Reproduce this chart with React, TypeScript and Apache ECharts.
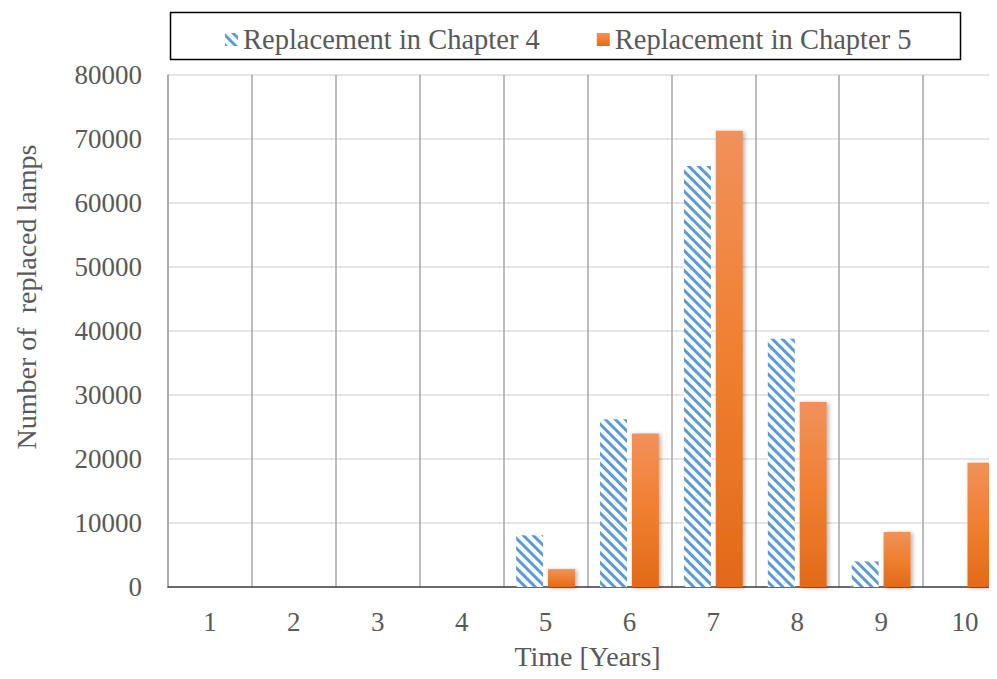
import React, { useEffect, useRef } from "react";
import * as echarts from "echarts";

const years = ["1", "2", "3", "4", "5", "6", "7", "8", "9", "10"];
const chapter4Replacements = [0, 0, 0, 0, 8100, 26200, 65800, 38800, 4000, 0];
const chapter5Replacements = [0, 0, 0, 0, 2800, 24000, 71300, 28900, 8600, 19400];
const yTicks = { min: 0, max: 80000, interval: 10000 };

const FONT = "Liberation Serif";
const TEXT_GRAY = "#595959";

export default function App() {
  const ref = useRef<HTMLDivElement>(null);

  useEffect(() => {
    if (!ref.current) return;
    const chart = echarts.init(ref.current, null, { renderer: "svg" });

    chart.setOption({
      animation: false,
      backgroundColor: "#ffffff",
      textStyle: { fontFamily: FONT },
      // the last category runs slightly past the right edge of the canvas
      grid: {
        left: 168,
        top: 75,
        width: 839,
        height: 512,
        containLabel: false,
        outerBoundsMode: "none",
      },
      legend: {
        left: 220,
        top: 20,
        icon: "rect",
        itemWidth: 13,
        itemHeight: 13,
        itemGap: 57,
        textStyle: { fontFamily: FONT, fontSize: 28.5, color: TEXT_GRAY },
        data: ["Replacement in Chapter 4", "Replacement in Chapter 5"],
      },
      graphic: [
        {
          type: "rect",
          left: 168,
          top: 10,
          shape: { width: 790, height: 47 },
          style: { fill: "none", stroke: "#000000", lineWidth: 1.5 },
          z: 100,
        },
        {
          type: "text",
          x: 26,
          y: 297,
          rotation: Math.PI / 2,
          style: {
            text: "Number of  replaced lamps",
            fontFamily: FONT,
            fontSize: 28,
            fill: TEXT_GRAY,
            align: "center",
            verticalAlign: "middle",
          },
        },
      ],
      xAxis: {
        type: "category",
        data: years,
        boundaryGap: true,
        name: "Time [Years]",
        nameLocation: "middle",
        nameGap: 55,
        nameTextStyle: { fontFamily: FONT, fontSize: 28, color: TEXT_GRAY },
        axisLine: { show: true, lineStyle: { color: "#404040", width: 1.5 } },
        axisTick: { show: false },
        axisLabel: { fontFamily: FONT, fontSize: 27, color: TEXT_GRAY, margin: 21 },
        splitLine: {
          show: true,
          interval: 0,
          lineStyle: { color: "#a6a6a6", width: 1.5 },
        },
      },
      yAxis: {
        type: "value",
        min: yTicks.min,
        max: yTicks.max,
        interval: yTicks.interval,
        axisLine: { show: true, lineStyle: { color: "#a6a6a6", width: 1.5 } },
        axisTick: { show: false },
        axisLabel: {
          fontFamily: FONT,
          fontSize: 27,
          color: TEXT_GRAY,
          margin: 26,
          formatter: (v: number) => String(v),
        },
        splitLine: { show: true, lineStyle: { color: "#dedede", width: 1.5 } },
      },
      series: [
        {
          name: "Replacement in Chapter 4",
          type: "bar",
          data: chapter4Replacements,
          barWidth: 27,
          barGap: "18%",
          itemStyle: {
            color: "#ffffff",
            decal: {
              symbol: "rect",
              symbolSize: 1,
              color: "#5b9bd5",
              dashArrayX: [1, 0],
              dashArrayY: [2.2, 3.2],
              rotation: Math.PI / 4,
            },
          },
        },
        {
          name: "Replacement in Chapter 5",
          type: "bar",
          data: chapter5Replacements,
          barWidth: 27,
          itemStyle: {
            color: new echarts.graphic.LinearGradient(0, 0, 0, 1, [
              { offset: 0, color: "#f1915a" },
              { offset: 0.5, color: "#f07f30" },
              { offset: 1, color: "#e26a1a" },
            ]),
            shadowBlur: 4,
            shadowColor: "rgba(0,0,0,0.3)",
            shadowOffsetX: 2,
            shadowOffsetY: 1,
          },
        },
      ],
    });

    return () => chart.dispose();
  }, []);

  return <div ref={ref} style={{ width: 997, height: 679, margin: -8 }} />;
}
